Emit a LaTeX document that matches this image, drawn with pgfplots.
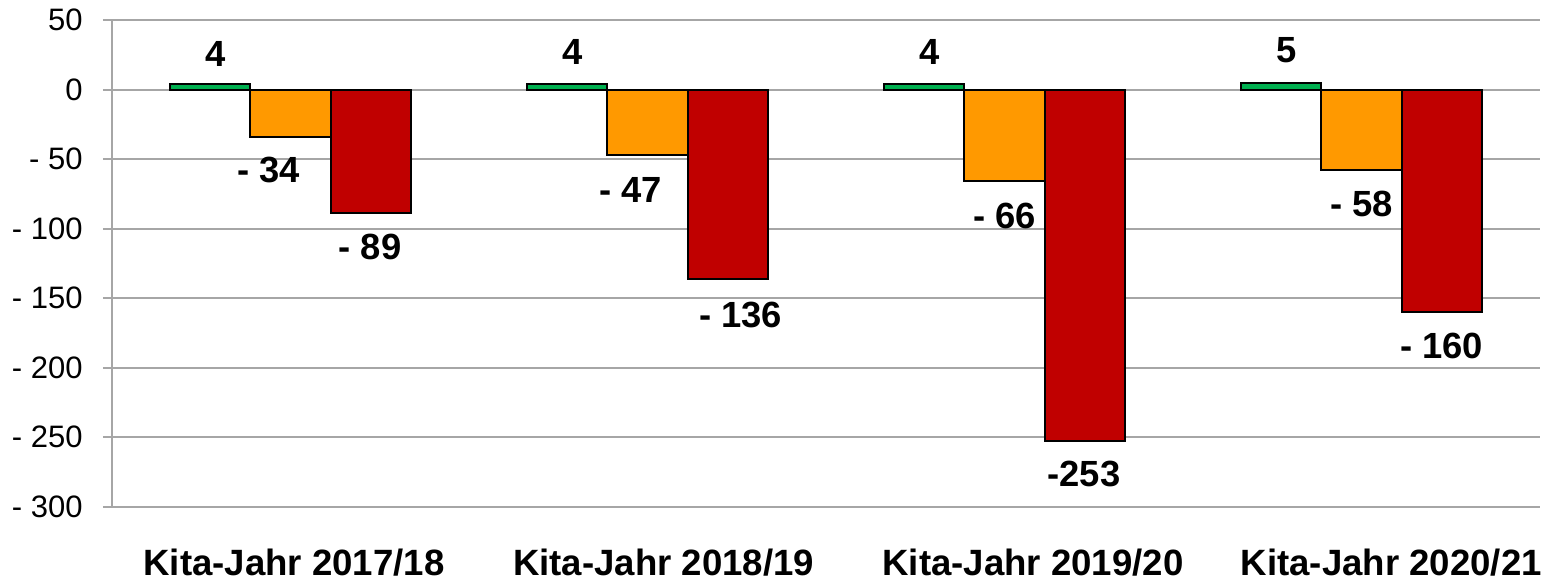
\documentclass[border=0pt]{standalone}
\usepackage{pgfplots}
\pgfplotsset{compat=1.18}
\usepackage{pgfplotstable}
\usepackage{fontspec}
\setmainfont{Liberation Sans}
\definecolor{cgreen}{HTML}{00B050}
\definecolor{corange}{HTML}{FF9900}
\definecolor{cred}{HTML}{C00000}
\definecolor{cgrid}{HTML}{A6A6A6}

\pgfplotstableread[col sep=comma]{
x,y,lab,dx,dy
0,4,4,2.5,15
1,4,4,2.5,16
2,4,4,2.5,16
3,5,5,2.75,16.5
}\tgreen

\pgfplotstableread[col sep=comma]{
x,y,lab,dx,dy
0,-34,- 34,-10.9,-16.25
1,-47,- 47,-8.4,-17.25
2,-66,- 66,0,-17
3,-58,- 58,0,-17
}\torange

\pgfplotstableread[col sep=comma]{
x,y,lab,dx,dy
0,-89,- 89,-0.25,-17
1,-136,- 136,6.5,-18
2,-253,-253,-0.25,-16.3
3,-160,- 160,0,-16.7
}\tred

\begin{document}
\begin{tikzpicture}
\useasboundingbox (0,0) rectangle (777.5pt,291.5pt);
\begin{axis}[
  at={(56pt,38.15pt)}, anchor=south west,
  scale only axis, width=714pt, height=243.2pt,
  ybar=0pt, bar width=40pt,
  xmin=-0.5, xmax=3.5, ymin=-300, ymax=50,
  xtick={0.0098,1.0454,2.0798,3.0835},
  xticklabels={Kita-Jahr 2017/18,Kita-Jahr 2018/19,Kita-Jahr 2019/20,Kita-Jahr 2020/21},
  ytick={-300,-250,-200,-150,-100,-50,0,50},
  yticklabels={- 300,- 250,- 200,- 150,- 100,- 50,0,50},
  ymajorgrids, grid style={draw=cgrid, line width=0.9pt},
  axis x line*=bottom, axis y line*=left,
  x axis line style={draw=none},
  y axis line style={draw=cgrid, line width=0.9pt, -},
  x tick style={draw=none},
  y tick style={draw=cgrid, line width=0.9pt},
  tick align=outside, major tick length=4.5pt,
  yticklabel style={font=\fontsize{15.5}{15.5}\selectfont, anchor=east, inner sep=0pt, xshift=-10pt},
  xticklabel style={font=\bfseries\fontsize{18.3}{18.3}\selectfont, anchor=base, inner sep=0pt, yshift=-29.9pt},
  point meta=explicit symbolic,
  nodes near coords,
  visualization depends on={\thisrow{dx} \as \dx},
  visualization depends on={\thisrow{dy} \as \dy},
  every node near coord/.append style={anchor=center, inner sep=0pt, font=\bfseries\fontsize{18.2}{18.2}\selectfont, xshift=\dx pt, yshift=\dy pt, text=black},
  clip=false,
]
\addplot[fill=cgreen, draw=black, line width=1pt] table[x=x, y=y, meta=lab] {\tgreen};
\addplot[fill=corange, draw=black, line width=1pt] table[x=x, y=y, meta=lab] {\torange};
\addplot[fill=cred, draw=black, line width=1pt] table[x=x, y=y, meta=lab] {\tred};
\end{axis}
\end{tikzpicture}
\end{document}
